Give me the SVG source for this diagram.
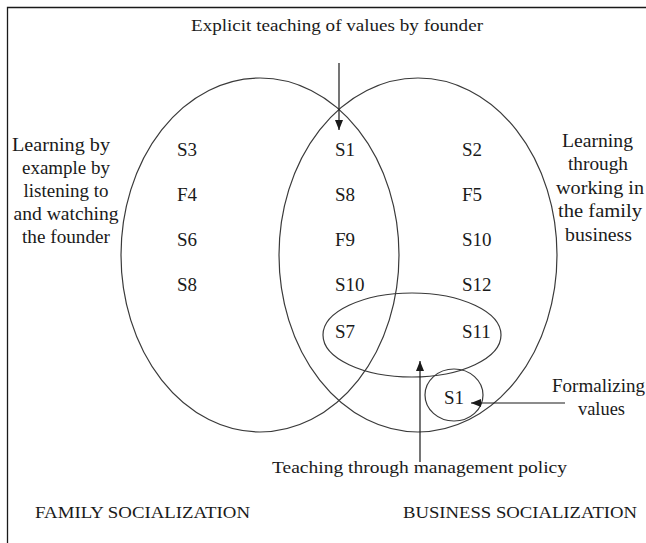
<svg xmlns="http://www.w3.org/2000/svg" width="646" height="543" viewBox="0 0 646 543">
<defs>
<style>
.t{font-family:"Liberation Serif","Times New Roman",serif;fill:#1a1a1a;}
.s{font-size:18px;}
.n{font-size:19px;}
.m{font-size:17px;}
.c{text-anchor:middle;}
.sh{fill:none;stroke:#3a3a3a;stroke-width:1.2;}
.ar{fill:none;stroke:#1a1a1a;stroke-width:1.2;}
</style>
<marker id="ah" viewBox="0 0 10 8" refX="10" refY="4" markerWidth="10" markerHeight="8" markerUnits="userSpaceOnUse" orient="auto">
<path d="M0,0 L10,4 L0,8 Z" fill="#1a1a1a"/>
</marker>
</defs>
<rect width="646" height="543" fill="#ffffff"/>
<path d="M7.5,543 V7.5 H646" fill="none" stroke="#1a1a1a" stroke-width="1.3"/>

<g id="family">
<ellipse class="sh" cx="260" cy="255" rx="139" ry="177"/>
</g>
<g id="business">
<ellipse class="sh" cx="418" cy="255" rx="139" ry="177"/>
</g>
<g id="policy">
<ellipse class="sh" cx="412" cy="335" rx="89" ry="42"/>
</g>
<g id="formal">
<ellipse class="sh" cx="454" cy="395" rx="29" ry="26"/>
</g>

<g id="connectors">
<line class="ar" x1="339" y1="63" x2="339" y2="130" marker-end="url(#ah)"/>
<line class="ar" x1="420" y1="462" x2="420" y2="361" marker-end="url(#ah)"/>
<line class="ar" x1="565" y1="403" x2="471" y2="403" marker-end="url(#ah)"/>
</g>

<g id="labels">
<text class="t m" x="191" y="31" textLength="292" lengthAdjust="spacingAndGlyphs">Explicit teaching of values by founder</text>
<text class="t s c" x="61" y="151" textLength="98" lengthAdjust="spacingAndGlyphs">Learning by</text>
<text class="t s c" x="66" y="174" textLength="88" lengthAdjust="spacingAndGlyphs">example by</text>
<text class="t s c" x="66" y="197" textLength="85" lengthAdjust="spacingAndGlyphs">listening to</text>
<text class="t s c" x="66" y="220" textLength="105" lengthAdjust="spacingAndGlyphs">and watching</text>
<text class="t s c" x="66" y="243" textLength="88" lengthAdjust="spacingAndGlyphs">the founder</text>
<text class="t s c" x="597.5" y="146.5" textLength="71" lengthAdjust="spacingAndGlyphs">Learning</text>
<text class="t s c" x="598" y="170" textLength="60" lengthAdjust="spacingAndGlyphs">through</text>
<text class="t s c" x="600" y="193.5" textLength="88" lengthAdjust="spacingAndGlyphs">working in</text>
<text class="t s c" x="600" y="217" textLength="84" lengthAdjust="spacingAndGlyphs">the family</text>
<text class="t s c" x="598.5" y="240.5" textLength="67" lengthAdjust="spacingAndGlyphs">business</text>
<text class="t s c" x="598.5" y="392" textLength="93" lengthAdjust="spacingAndGlyphs">Formalizing</text>
<text class="t s c" x="601.5" y="415" textLength="47" lengthAdjust="spacingAndGlyphs">values</text>
<text class="t m" x="272" y="473" textLength="295" lengthAdjust="spacingAndGlyphs">Teaching through management policy</text>
<text class="t m" x="35" y="518" textLength="215" lengthAdjust="spacingAndGlyphs">FAMILY SOCIALIZATION</text>
<text class="t m" x="403" y="518" textLength="234" lengthAdjust="spacingAndGlyphs">BUSINESS SOCIALIZATION</text>
</g>

<g id="items">
<text class="t n" x="177" y="156">S3</text>
<text class="t n" x="177" y="201">F4</text>
<text class="t n" x="177" y="246">S6</text>
<text class="t n" x="177" y="291">S8</text>
<text class="t n" x="335" y="156">S1</text>
<text class="t n" x="335" y="201">S8</text>
<text class="t n" x="335" y="246">F9</text>
<text class="t n" x="335" y="291">S10</text>
<text class="t n" x="462" y="156">S2</text>
<text class="t n" x="462" y="201">F5</text>
<text class="t n" x="462" y="246">S10</text>
<text class="t n" x="462" y="291">S12</text>
<text class="t n" x="335" y="338">S7</text>
<text class="t n" x="462" y="338">S11</text>
<text class="t n" x="444" y="404">S1</text>
</g>
</svg>
